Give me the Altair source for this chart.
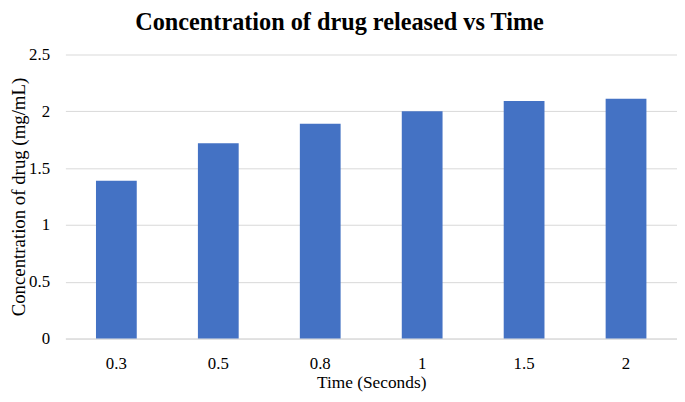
import altair as alt
import pandas as pd

times = ["0.3", "0.5", "0.8", "1", "1.5", "2"]
concentration = [1.39, 1.72, 1.89, 2.0, 2.09, 2.11]

df = pd.DataFrame({"time": times, "conc": concentration})

FONT = "Liberation Serif"

chart = alt.Chart(df).mark_bar(color="#4472C4").encode(
    x=alt.X("time:N", sort=times, title="Time (Seconds)",
            scale=alt.Scale(paddingInner=0.6, paddingOuter=0.3),
            axis=alt.Axis(labelAngle=0, ticks=False, domainColor="#d9d9d9",
                          labelPadding=17, titlePadding=2, titleFontSize=17.5)),
    y=alt.Y("conc:Q", title="Concentration of drug (mg/mL)",
            scale=alt.Scale(domain=[0, 2.5]),
            axis=alt.Axis(values=[0, 0.5, 1, 1.5, 2, 2.5], format="~g",
                          ticks=False, domain=False, gridColor="#d9d9d9",
                          labelPadding=16, titlePadding=0, titleFontSize=19)),
).properties(
    width=618, height=287,
    title=alt.TitleParams("Concentration of drug released vs Time", dx=-32,
                          fontSize=24.5, font=FONT, fontWeight="bold", offset=10),
    autosize=alt.AutoSizeParams(type="none"),
    padding={"left": 58, "top": 45, "right": 0, "bottom": 54},
).configure_axis(
    labelFont=FONT, titleFont=FONT, labelFontSize=17,
    labelColor="#000000", titleColor="#000000", titleFontWeight="normal",
).configure_view(stroke=None)

chart.save("out.html", embed_options={"renderer": "svg", "actions": False})
